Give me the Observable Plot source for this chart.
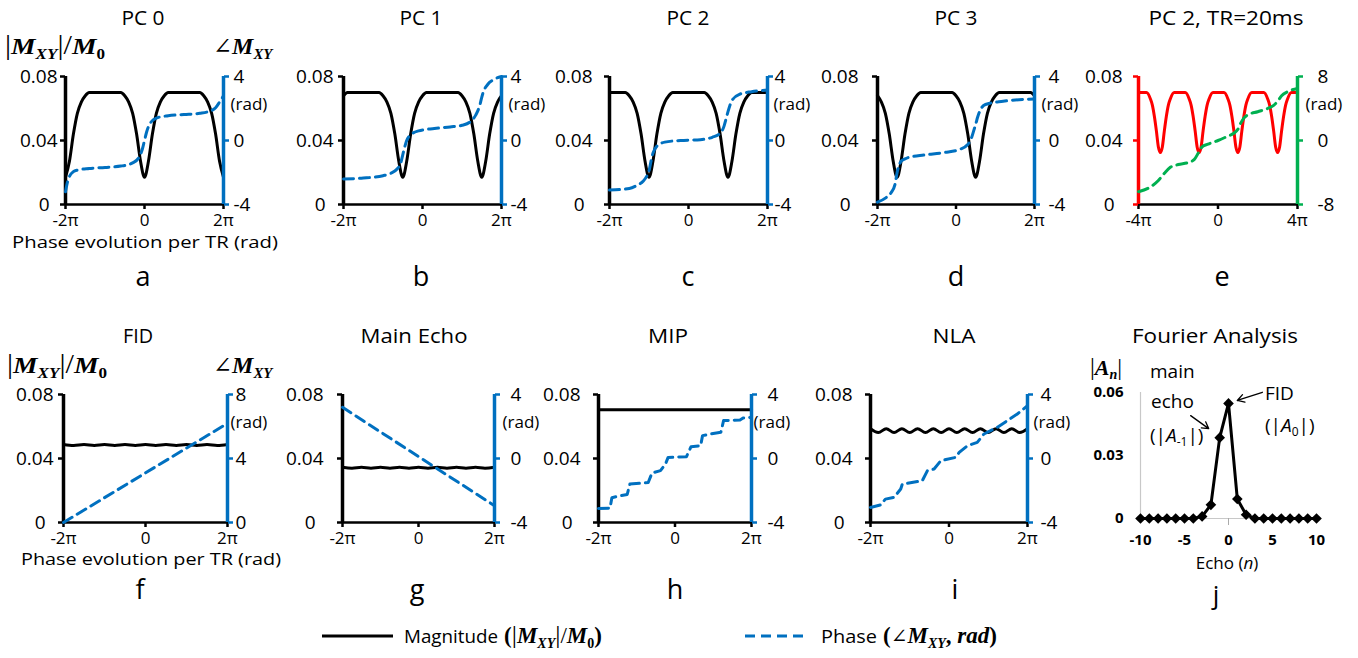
<!DOCTYPE html>
<html>
<head>
<meta charset="utf-8">
<script src="https://cdn.jsdelivr.net/npm/d3@7"></script>
<script src="https://cdn.jsdelivr.net/npm/@observablehq/plot@0.6"></script>
<style>
html,body{margin:0;padding:0;background:#fff;}
#root{position:relative;width:1358px;height:658px;overflow:hidden;background:#fff;}
</style>
</head>
<body>
<div id="root"></div>
<script>
// ---------------- DATA ----------------
// x positions are in units of pi (phase evolution per TR)
const xGrid = [-2,-1.9,-1.8,-1.7,-1.6,-1.5,-1.4,-1.3,-1.2,-1.1,-1,-0.9,-0.8,-0.7,-0.6,-0.5,-0.4,-0.3,-0.2,-0.1,0,0.1,0.2,0.3,0.4,0.5,0.6,0.7,0.8,0.9,1,1.1,1.2,1.3,1.4,1.5,1.6,1.7,1.8,1.9,2];
const magA = [0.017,0.027,0.044,0.057,0.064,0.068,0.070,0.070,0.070,0.070,0.070,0.070,0.070,0.070,0.070,0.068,0.064,0.057,0.044,0.027,0.017,0.027,0.044,0.057,0.064,0.068,0.070,0.070,0.070,0.070,0.070,0.070,0.070,0.070,0.070,0.068,0.064,0.057,0.044,0.027,0.017];
const magB = [0.068,0.070,0.070,0.070,0.070,0.070,0.070,0.070,0.070,0.070,0.068,0.064,0.057,0.044,0.027,0.017,0.027,0.044,0.057,0.064,0.068,0.070,0.070,0.070,0.070,0.070,0.070,0.070,0.070,0.070,0.068,0.064,0.057,0.044,0.027,0.017,0.027,0.044,0.057,0.064,0.068];
const magC = [0.070,0.070,0.070,0.070,0.070,0.068,0.064,0.057,0.044,0.027,0.017,0.027,0.044,0.057,0.064,0.068,0.070,0.070,0.070,0.070,0.070,0.070,0.070,0.070,0.070,0.068,0.064,0.057,0.044,0.027,0.017,0.027,0.044,0.057,0.064,0.068,0.070,0.070,0.070,0.070,0.070];
const magD = [0.068,0.064,0.057,0.044,0.027,0.017,0.027,0.044,0.057,0.064,0.068,0.070,0.070,0.070,0.070,0.070,0.070,0.070,0.070,0.070,0.068,0.064,0.057,0.044,0.027,0.017,0.027,0.044,0.057,0.064,0.068,0.070,0.070,0.070,0.070,0.070,0.070,0.070,0.070,0.070,0.068];

const phaseAx = [-2,-1.95,-1.9,-1.8,-1.7,-1.4,-1.0,-0.6,-0.3,-0.15,-0.05,0,0.05,0.15,0.3,0.6,1.0,1.4,1.7,1.8,1.9,2];
const phaseAy = [-3.2,-2.6,-2.25,-1.95,-1.85,-1.75,-1.68,-1.6,-1.4,-1.1,-0.5,0.0,0.5,1.1,1.4,1.55,1.62,1.7,1.88,2.05,2.4,2.8];
const phaseBx = [-2,-1.5,-1.0,-0.8,-0.65,-0.55,-0.5,-0.45,-0.4,-0.3,-0.1,0.3,0.7,1.0,1.2,1.35,1.45,1.5,1.55,1.65,1.8,2.0];
const phaseBy = [-2.4,-2.35,-2.2,-2.05,-1.8,-1.4,-0.9,-0.4,0.0,0.35,0.6,0.75,0.85,0.95,1.15,1.6,2.2,2.7,3.1,3.5,3.8,4.0];
const phaseCx = [-2,-1.5,-1.3,-1.15,-1.05,-1.0,-0.95,-0.9,-0.8,-0.6,-0.2,0.3,0.6,0.8,0.9,0.95,1.0,1.05,1.1,1.3,1.6,2.0];
const phaseCy = [-3.1,-3.0,-2.8,-2.55,-2.2,-1.9,-1.3,-0.8,-0.35,-0.1,0.0,0.05,0.2,0.45,0.9,1.35,1.8,2.2,2.5,2.9,3.05,3.15];
const phaseDx = [-2,-1.8,-1.65,-1.55,-1.5,-1.45,-1.4,-1.3,-1.2,-0.8,-0.3,0.1,0.3,0.4,0.45,0.5,0.55,0.6,0.75,1.2,2.0];
const phaseDy = [-3.85,-3.6,-3.25,-2.7,-2.0,-1.55,-1.3,-1.15,-1.05,-0.9,-0.75,-0.55,-0.25,0.2,0.6,1.0,1.45,1.8,2.25,2.45,2.6];

// PC 2, TR = 20 ms (x from -4pi to 4pi)
const magEx = [-4,-3.6,-3.4,-3.3,-3.2,-3.1,-3.0,-2.9,-2.8,-2.7,-2.6,-2.5,-2.4,-2.2,-1.65,-1.45,-1.35,-1.25,-1.15,-1.05,-0.95,-0.85,-0.75,-0.65,-0.55,-0.45,-0.25,0.3,0.5,0.6,0.7,0.8,0.9,1.0,1.1,1.2,1.3,1.4,1.5,1.7,2.3,2.5,2.6,2.7,2.8,2.9,3.0,3.1,3.2,3.3,3.4,3.5,3.7,4];
const magEy = [0.070,0.070,0.066,0.062,0.055,0.046,0.036,0.0325,0.036,0.046,0.055,0.062,0.066,0.070,0.070,0.066,0.062,0.055,0.046,0.036,0.0325,0.036,0.046,0.055,0.062,0.066,0.070,0.070,0.066,0.062,0.055,0.046,0.036,0.0325,0.036,0.046,0.055,0.062,0.066,0.070,0.070,0.066,0.062,0.055,0.046,0.036,0.0325,0.036,0.046,0.055,0.062,0.066,0.070,0.070];
const phaseEx = [-4,-3.5,-3.0,-2.7,-2.4,-2.0,-1.5,-1.2,-1.0,-0.8,-0.5,0,0.5,0.8,1.0,1.15,1.3,1.5,2.0,2.5,2.8,3.0,3.2,3.5,4.0];
const phaseEy = [-6.4,-5.95,-5.0,-4.1,-3.35,-3.0,-2.75,-2.4,-1.6,-0.8,-0.45,0.0,0.55,0.9,1.4,2.2,2.8,3.2,3.6,4.0,4.4,4.9,5.6,6.1,6.5];

// bottom row
const xQuarter = [-2,-1.75,-1.5,-1.25,-1,-0.75,-0.5,-0.25,0,0.25,0.5,0.75,1,1.25,1.5,1.75,2];
const magF = [0.0487,0.0481,0.0487,0.0481,0.0487,0.0481,0.0487,0.0481,0.0487,0.0481,0.0487,0.0481,0.0487,0.0481,0.0487,0.0481,0.0487];
const phaseFx = [-2,0,2];
const phaseFy = [0.0,3.1,6.2];
const magG = [0.0345,0.0339,0.0345,0.0339,0.0345,0.0339,0.0345,0.0339,0.0345,0.0339,0.0345,0.0339,0.0345,0.0339,0.0345,0.0339,0.0345];
const phaseGx = [-2,0,2];
const phaseGy = [3.2,0.12,-2.95];
const magH = [0.0705,0.0705,0.0705,0.0705,0.0705,0.0705,0.0705,0.0705,0.0705,0.0705,0.0705,0.0705,0.0705,0.0705,0.0705,0.0705,0.0705];
const phaseHx = [-2,-1.7,-1.65,-1.43,-1.25,-1.18,-0.7,-0.6,-0.38,-0.25,-0.18,0.3,0.42,0.67,0.72,0.93,1.2,1.27,1.7,1.78,2.0];
const phaseHy = [-3.12,-3.1,-2.45,-2.33,-2.25,-1.6,-1.5,-0.9,-0.76,-0.35,0.07,0.11,0.74,0.8,1.43,1.53,1.64,2.37,2.41,2.53,2.58];
const xFifth = [-2,-1.8,-1.6,-1.4,-1.2,-1,-0.8,-0.6,-0.4,-0.2,0,0.2,0.4,0.6,0.8,1,1.2,1.4,1.6,1.8,2];
const magI = [0.0586,0.0562,0.0586,0.0562,0.0586,0.0562,0.0586,0.0562,0.0586,0.0562,0.0586,0.0562,0.0586,0.0562,0.0586,0.0562,0.0586,0.0562,0.0586,0.0562,0.0586];
const phaseIx = [-2,-1.74,-1.62,-1.4,-1.23,-1.19,-0.68,-0.55,-0.38,-0.21,0.17,0.26,0.47,0.72,0.89,1.23,1.49,1.74,2.0];
const phaseIy = [-3.06,-2.9,-2.54,-2.43,-1.91,-1.6,-1.39,-0.76,-0.66,-0.14,0.07,0.38,0.8,1.01,1.53,1.95,2.37,2.78,3.3];

// Fourier analysis
const echoN = [-10,-9,-8,-7,-6,-5,-4,-3,-2,-1,0,1,2,3,4,5,6,7,8,9,10];
const echoA = [0,0,0,0,0,0,0,0.001,0.0065,0.0385,0.0548,0.0093,0.0018,0,0,0,0,0,0,0,0];
const annArrows = [
  {x1: 3.85, y1: 0.0601, x2: 1.0, y2: 0.0562},
  {x1: -4.3, y1: 0.0490, x2: -2.25, y2: 0.0428}
];

// tick labels
const magTicks = [0.04, 0.08];
const magZero = [0];
const phaseTicks4 = [-4, 0, 4];
const phaseTicks8 = [0, 4, 8];
const phaseTicksE = [-8, 0, 8];
const echoTicks = [-10, -5, 0, 5, 10];
const ampTicks = [0, 0.03, 0.06];

// ---------------- DRAWING ----------------
const BLUE = "#0070C0", GREEN = "#00B050", RED = "#FF0000";
const SANS = "'Open Sans', sans-serif";
const SERIF = "'Liberation Serif', 'Times New Roman', serif";
const root = document.getElementById("root");
const pts = (xs, ys) => xs.map((x, i) => ({x, y: ys[i]}));
const fmtPi = d => d === 0 ? "0" : (d < 0 ? "-" : "") + Math.abs(d) + "π";
const fmtMag = d => d === 0 ? "0" : d.toFixed(2);

function mkPlot(opts, pos) {
  const svg = Plot.plot(opts);
  Object.assign(svg.style, {position: "absolute", left: pos.left + "px", top: pos.top + "px",
    background: "transparent", overflow: "visible", maxWidth: "none", fontFamily: SANS});
  root.appendChild(svg);
  return svg;
}

function dual(p) {
  const ML = 70, MR = 80, MT = 14, MB = 40;
  const W = p.R - p.L + ML + MR, H = p.B - p.T + MT + MB;
  const base = {width: W, height: H, marginLeft: ML, marginRight: MR, marginTop: MT, marginBottom: MB};
  const pos = {left: p.L - ML, top: p.T - MT};
  mkPlot({...base,
    x: {domain: p.xd, label: null},
    y: {domain: [0, 0.08], label: null},
    marks: [
      Plot.axisX({ticks: p.xt, tickFormat: fmtPi, tickSize: 5, tickPadding: 4, strokeWidth: 2.5, fontSize: 17, label: null}),
      Plot.ruleY([0], {stroke: "#000", strokeWidth: 2.5}),
      Plot.axisY({ticks: magTicks, tickFormat: fmtMag, tickSize: 5, tickPadding: p.padL, stroke: p.magC, fill: "#000", strokeWidth: 2.5, fontSize: 19, label: null}),
      Plot.axisY({ticks: magZero, tickFormat: fmtMag, tickSize: 5, tickPadding: p.padL + 8, stroke: p.magC, fill: "#000", strokeWidth: 2.5, fontSize: 19, label: null}),
      Plot.ruleX([p.xd[0]], {stroke: p.magC, strokeWidth: 3.5}),
      Plot.line(pts(p.mx, p.my), {x: "x", y: "y", stroke: p.magC, strokeWidth: 3, curve: "monotone-x"})
    ]}, pos);
  mkPlot({...base,
    x: {domain: p.xd, axis: null},
    y: {domain: p.pd, label: null},
    marks: [
      Plot.axisY({anchor: "right", ticks: p.pt, tickFormat: d => String(d), tickSize: 5, tickPadding: p.padR, stroke: p.phC, fill: "#000", strokeWidth: 2.5, fontSize: 19, label: null}),
      Plot.ruleX([p.xd[1]], {stroke: p.phC, strokeWidth: 3.5}),
      Plot.line(pts(p.px, p.py), {x: "x", y: "y", stroke: p.phC, strokeWidth: 3, strokeDasharray: "10,6", curve: p.pcurve || "monotone-x"}),
      Plot.text(["(rad)"], {frameAnchor: "top-right", dx: p.radDx, dy: 21, textAnchor: "start", fontSize: 17, fill: "#000"})
    ]}, pos);
}

const TOP = {T: 76, B: 204}, BOT = {T: 394, B: 522};
const panels = [
  {...TOP, L: 65, R: 223, xd: [-2, 2], xt: [-2, 0, 2], mx: xGrid, my: magA, px: phaseAx, py: phaseAy, pd: [-4, 4], pt: phaseTicks4, magC: "#000", phC: BLUE, padL: 3, padR: 5, radDx: 7},
  {...TOP, L: 343, R: 501, xd: [-2, 2], xt: [-2, 0, 2], mx: xGrid, my: magB, px: phaseBx, py: phaseBy, pd: [-4, 4], pt: phaseTicks4, magC: "#000", phC: BLUE, padL: 5, padR: 4, radDx: 7},
  {...TOP, L: 609, R: 767, xd: [-2, 2], xt: [-2, 0, 2], mx: xGrid, my: magC, px: phaseCx, py: phaseCy, pd: [-4, 4], pt: phaseTicks4, magC: "#000", phC: BLUE, padL: 12, padR: 2, radDx: 6},
  {...TOP, L: 877, R: 1034, xd: [-2, 2], xt: [-2, 0, 2], mx: xGrid, my: magD, px: phaseDx, py: phaseDy, pd: [-4, 4], pt: phaseTicks4, magC: "#000", phC: BLUE, padL: 14, padR: 9, radDx: 7},
  {...TOP, L: 1138, R: 1297, xd: [-4, 4], xt: [-4, 0, 4], mx: magEx, my: magEy, px: phaseEx, py: phaseEy, pd: [-8, 8], pt: phaseTicksE, magC: RED, phC: GREEN, padL: 11, padR: 15, radDx: 8},
  {...BOT, L: 63, R: 227, xd: [-2, 2], xt: [-2, 0, 2], mx: xQuarter, my: magF, px: phaseFx, py: phaseFy, pd: [0, 8], pt: phaseTicks8, magC: "#000", phC: BLUE, padL: 5, padR: 3, radDx: 3, pcurve: "linear"},
  {...BOT, L: 342, R: 494, xd: [-2, 2], xt: [-2, 0, 2], mx: xQuarter, my: magG, px: phaseGx, py: phaseGy, pd: [-4, 4], pt: phaseTicks4, magC: "#000", phC: BLUE, padL: 14, padR: 11, radDx: 8, pcurve: "linear"},
  {...BOT, L: 598, R: 751, xd: [-2, 2], xt: [-2, 0, 2], mx: xQuarter, my: magH, px: phaseHx, py: phaseHy, pd: [-4, 4], pt: phaseTicks4, magC: "#000", phC: BLUE, padL: 13, padR: 11, radDx: 2, pcurve: "linear"},
  {...BOT, L: 870, R: 1027, xd: [-2, 2], xt: [-2, 0, 2], mx: xFifth, my: magI, px: phaseIx, py: phaseIy, pd: [-4, 4], pt: phaseTicks4, magC: "#000", phC: BLUE, padL: 13, padR: 8, radDx: 6, pcurve: "linear"}
];
panels.forEach(dual);

// Fourier analysis panel
(function () {
  const L = 1140, R = 1316, T = 392, B = 518, ML = 60, MR = 40, MT = 12, MB = 50;
  const data = echoN.map((n, i) => ({n, a: echoA[i]}));
  mkPlot({width: R - L + ML + MR, height: B - T + MT + MB, marginLeft: ML, marginRight: MR, marginTop: MT, marginBottom: MB,
    x: {domain: [-10, 10], label: null},
    y: {domain: [0, 0.06], label: null},
    marks: [
      Plot.ruleX([-10], {stroke: "#c8c8c8", strokeWidth: 1.2}),
      Plot.ruleY([0], {stroke: "#c8c8c8", strokeWidth: 1.2}),
      Plot.axisY({ticks: ampTicks, tickFormat: fmtMag, tickSize: 0, tickPadding: 17, fontSize: 15, fontWeight: "bold", fill: "#000", label: null}),
      Plot.axisX({ticks: echoTicks, tickFormat: d => String(d), tickSize: 0, tickPadding: 16, fontSize: 15, fontWeight: "bold", fill: "#000", label: null}),
      Plot.axisX({ticks: [0], tickFormat: () => "", tickSize: 7, stroke: "#aaa", label: null}),
      Plot.line(data, {x: "n", y: "a", stroke: "#000", strokeWidth: 3}),
      Plot.dot(data, {x: "n", y: "a", symbol: "diamond2", fill: "#000", stroke: "none", r: 4.8}),
      Plot.arrow(annArrows, {x1: "x1", y1: "y1", x2: "x2", y2: "y2", stroke: "#000", strokeWidth: 1.3, headLength: 9})
    ]}, {left: L - ML, top: T - MT});
})();

// ---------------- TEXT OVERLAY ----------------
const ov = d3.select(root).append("svg").attr("width", 1358).attr("height", 658)
  .style("position", "absolute").style("left", "0px").style("top", "0px").style("pointer-events", "none");

function txt(s, x, y, o = {}) {
  const t = ov.append("text").attr("x", x).attr("y", y).text(s)
    .attr("font-family", o.family || SANS).attr("font-size", o.size || 18)
    .attr("text-anchor", o.anchor || "middle").attr("fill", o.fill || "#000");
  if (o.len) t.attr("textLength", o.len).attr("lengthAdjust", "spacingAndGlyphs");
  if (o.weight) t.attr("font-weight", o.weight);
  if (o.italic) t.attr("font-style", "italic");
  return t;
}

// titles
const titlesTop = [["PC 0", 143, 43], ["PC 1", 421, 43], ["PC 2", 688, 43], ["PC 3", 956, 43], ["PC 2, TR=20ms", 1226, 155]];
titlesTop.forEach(([s, x, w]) => txt(s, x, 25, {size: 20, len: w}));
const titlesBot = [["FID", 138, 30], ["Main Echo", 414, 107], ["MIP", 668, 40], ["NLA", 954, 43], ["Fourier Analysis", 1215, 166]];
titlesBot.forEach(([s, x, w]) => txt(s, x, 343, {size: 20, len: w}));

// panel letters
[["a", 143], ["b", 421], ["c", 688], ["d", 956], ["e", 1222]].forEach(([s, x]) => txt(s, x, 286, {size: 27}));
[["f", 140], ["g", 417], ["h", 675], ["i", 955]].forEach(([s, x]) => txt(s, x, 599, {size: 27}));
txt("j", 1216, 604, {size: 26});

// x axis titles
txt("Phase evolution per TR (rad)", 145, 248, {size: 17, len: 266});
txt("Phase evolution per TR (rad)", 151, 565, {size: 17, len: 260});

// math labels
function bar(t, size) {
  t.append("tspan").attr("font-style", "normal").attr("font-weight", "normal").attr("font-size", size * 1.1).text("|");
}
function mathMag(g, x, y, size) {
  const t = g.append("text").attr("x", x).attr("y", y).attr("font-family", SERIF)
    .attr("font-weight", "bold").attr("font-style", "italic").attr("font-size", size).attr("fill", "#000");
  bar(t, size);
  t.append("tspan").text("M");
  t.append("tspan").attr("font-size", size * 0.62).attr("dy", size * 0.22).text("XY");
  t.append("tspan").attr("dy", -size * 0.22).attr("font-style", "normal").attr("font-weight", "normal").attr("font-size", size * 1.1).text("|");
  t.append("tspan").attr("font-style", "normal").attr("font-weight", "normal").attr("font-size", size * 1.1).text("/");
  t.append("tspan").text("M");
  t.append("tspan").attr("font-size", size * 0.62).attr("dy", size * 0.22).attr("font-style", "normal").text("0");
  return t;
}
function mathAngle(g, x, y, size) {
  const t = g.append("text").attr("x", x).attr("y", y).attr("font-family", SERIF)
    .attr("font-weight", "bold").attr("font-style", "italic").attr("font-size", size).attr("fill", "#000");
  t.append("tspan").attr("font-family", "'DejaVu Serif', serif").attr("font-style", "normal").attr("font-weight", "normal").attr("font-size", size * 0.95).text("∠");
  t.append("tspan").text("M");
  t.append("tspan").attr("font-size", size * 0.62).attr("dy", size * 0.22).text("XY");
  return t;
}
mathMag(ov, 5, 54, 24).attr("textLength", 100).attr("lengthAdjust", "spacingAndGlyphs");
mathMag(ov, 7, 373, 24).attr("textLength", 100).attr("lengthAdjust", "spacingAndGlyphs");
mathAngle(ov, 213, 54, 24);
mathAngle(ov, 213, 373, 24);

// |A_n|
(function () {
  const t = ov.append("text").attr("x", 1090).attr("y", 375).attr("font-family", SERIF)
    .attr("font-weight", "bold").attr("font-style", "italic").attr("font-size", 22).attr("fill", "#000");
  bar(t, 22);
  t.append("tspan").text("A");
  t.append("tspan").attr("font-size", 14).attr("dy", 4).text("n");
  t.append("tspan").attr("dy", -4).attr("font-style", "normal").attr("font-weight", "normal").attr("font-size", 24).text("|");
})();

// Fourier annotations
txt("main", 1150, 378, {size: 19, anchor: "start"});
txt("echo", 1151, 408, {size: 19, anchor: "start"});
(function () {
  const t = ov.append("text").attr("x", 1150).attr("y", 442).attr("font-family", SANS).attr("font-size", 19).attr("fill", "#000");
  t.append("tspan").text("(|");
  t.append("tspan").attr("font-style", "italic").text("A");
  t.append("tspan").attr("font-size", 12).attr("dy", 4).text("-1");
  t.append("tspan").attr("dy", -4).text("|)");
  const u = ov.append("text").attr("x", 1265).attr("y", 432).attr("font-family", SANS).attr("font-size", 19).attr("fill", "#000");
  u.append("tspan").text("(|");
  u.append("tspan").attr("font-style", "italic").text("A");
  u.append("tspan").attr("font-size", 12).attr("dy", 4).text("0");
  u.append("tspan").attr("dy", -4).text("|)");
  const e = ov.append("text").attr("x", 1227).attr("y", 569).attr("font-family", SANS).attr("font-size", 17).attr("fill", "#000").attr("text-anchor", "middle");
  e.append("tspan").text("Echo (");
  e.append("tspan").attr("font-style", "italic").text("n");
  e.append("tspan").text(")");
})();
txt("FID", 1265, 400, {size: 19, anchor: "start"});

// legend
ov.append("line").attr("x1", 322).attr("x2", 393).attr("y1", 636).attr("y2", 636).attr("stroke", "#000").attr("stroke-width", 3);
ov.append("line").attr("x1", 745).attr("x2", 807).attr("y1", 636).attr("y2", 636).attr("stroke", BLUE).attr("stroke-width", 3).attr("stroke-dasharray", "10,6");
(function () {
  txt("Magnitude", 404, 643, {size: 19, anchor: "start", len: 94});
  const t = ov.append("text").attr("x", 504).attr("y", 643).attr("font-family", SERIF).attr("font-weight", "bold").attr("font-size", 23).attr("fill", "#000");
  t.append("tspan").text("(");
  t.append("tspan").attr("font-weight", "normal").attr("font-size", 26).text("|");
  t.append("tspan").attr("font-style", "italic").text("M");
  t.append("tspan").attr("font-style", "italic").attr("font-size", 14).attr("dy", 5).text("XY");
  t.append("tspan").attr("dy", -5).attr("font-weight", "normal").attr("font-size", 26).text("|");
  t.append("tspan").attr("font-weight", "normal").text("/");
  t.append("tspan").attr("font-style", "italic").text("M");
  t.append("tspan").attr("font-size", 14).attr("dy", 5).text("0");
  t.append("tspan").attr("dy", -5).text(")");
  txt("Phase", 821, 643, {size: 19, anchor: "start", len: 56});
  const q = ov.append("text").attr("x", 883).attr("y", 643).attr("font-family", SERIF).attr("font-weight", "bold").attr("font-size", 23).attr("fill", "#000");
  q.append("tspan").text("(");
  q.append("tspan").attr("font-family", "'DejaVu Serif', serif").attr("font-weight", "normal").attr("font-size", 20).text("∠");
  q.append("tspan").attr("font-style", "italic").text("M");
  q.append("tspan").attr("font-style", "italic").attr("font-size", 14).attr("dy", 5).text("XY");
  q.append("tspan").attr("dy", -5).text(", ");
  q.append("tspan").attr("font-style", "italic").text("rad");
  q.append("tspan").text(")");
})();
</script>
</body>
</html>
